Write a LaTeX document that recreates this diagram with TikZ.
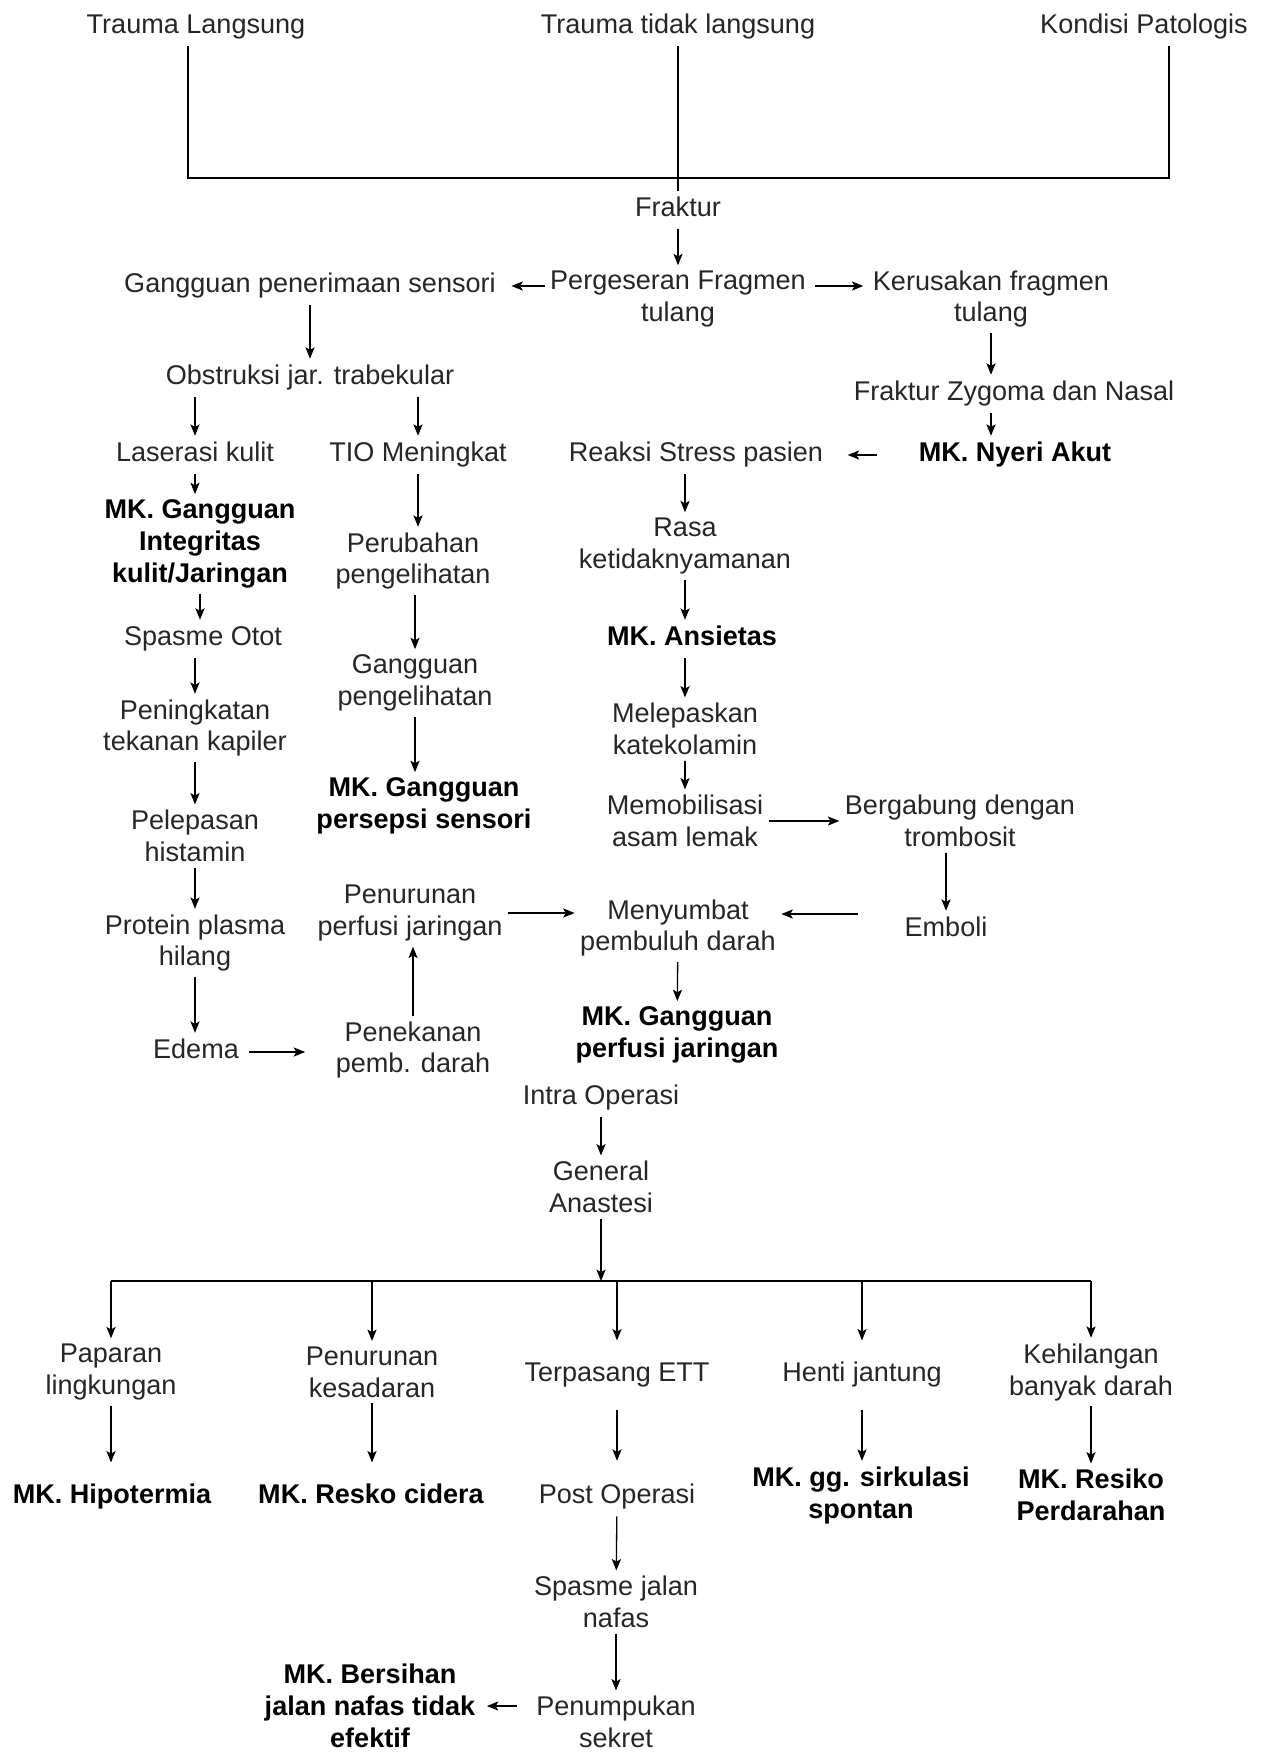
\documentclass[tikz,border=0pt]{standalone}
\usepackage{fontspec}
\setmainfont{Liberation Sans}
\usetikzlibrary{arrows.meta,calc}

\begin{document}
\begin{tikzpicture}[x=0.02cm,y=-0.02cm,
  every node/.style={font=\fontsize{15.4}{18.2}\selectfont,text=black!85,inner sep=3pt},
  txt/.style={text height=11.6pt,text depth=3.9pt},
  ml/.style={align=center},
  mk/.style={font=\fontsize{15.4}{18.2}\selectfont\bfseries,text=black},
  tall/.style={minimum height=1.37cm},
  arr/.style={-{Stealth[length=6.5pt,width=5.2pt,inset=1.5pt]},line width=0.75pt},
  link/.style={line width=0.75pt},
  bar/.style={line width=1.1pt}]
\useasboundingbox (0,0) rectangle (1264,1754);

\node[txt] (trLang) at (196,27) {Trauma Langsung};
\node[txt] (trTidak) at (678,27) {Trauma tidak langsung};
\node[txt] (kondisi) at (1144,27) {Kondisi Patologis};
\coordinate (jL) at (188,178);
\coordinate (jR) at (1169,178);
\node[txt] (fraktur) at (678,210) {Fraktur};
\node[ml] (pergeseran) at (678,299) {Pergeseran Fragmen\\tulang};
\node[txt] (sensori) at (310,286) {Gangguan penerimaan sensori};
\node[ml] (kerusakan) at (991,299) {Kerusakan fragmen\\tulang};
\node[txt] (obstruksi) at (310,378) {Obstruksi jar. trabekular};
\node[txt] (laserasi) at (195,455) {Laserasi kulit};
\node[txt] (tio) at (418,455) {TIO Meningkat};
\node[ml,mk] (integritas) at (200,544) {MK. Gangguan\\Integritas\\kulit/Jaringan};
\node[txt] (spasme) at (203,639) {Spasme Otot};
\node[ml] (kapiler) at (195,728) {Peningkatan\\tekanan kapiler};
\node[ml] (histamin) at (195,836) {Pelepasan\\histamin};
\node[ml] (protein) at (195,943) {Protein plasma\\hilang};
\node[txt] (edema) at (196,1052) {Edema};
\node[ml] (perubahan) at (413,561) {Perubahan\\pengelihatan};
\node[ml] (pengelihatan) at (415,683) {Gangguan\\pengelihatan};
\node[ml,mk] (persepsi) at (424,806) {MK. Gangguan\\persepsi sensori};
\node[ml] (penurunan) at (410,913) {Penurunan\\perfusi jaringan};
\node[ml] (penekanan) at (413,1050) {Penekanan\\pemb. darah};
\node[txt] (zygoma) at (1014,394) {Fraktur Zygoma dan Nasal};
\node[txt,mk] (nyeri) at (1015,455) {MK. Nyeri Akut};
\node[txt] (reaksi) at (696,455) {Reaksi Stress pasien};
\node[ml] (rasa) at (685,546) {Rasa\\ketidaknyamanan};
\node[txt,mk] (ansietas) at (692,639) {MK. Ansietas};
\node[ml] (katekolamin) at (685,729) {Melepaskan\\katekolamin};
\node[ml] (memobilisasi) at (685,821) {Memobilisasi\\asam lemak};
\node[ml] (bergabung) at (960,821) {Bergabung dengan\\trombosit};
\node[txt] (emboli) at (946,930) {Emboli};
\node[ml] (menyumbat) at (678,928) {Menyumbat\\pembuluh darah};
\node[ml,mk] (perfusi) at (677,1035) {MK. Gangguan\\perfusi jaringan};
\node[txt] (intra) at (601,1098) {Intra Operasi};
\node[ml] (anastesi) at (601,1187) {General\\Anastesi};
\coordinate (bar) at (601,1281);
\coordinate (barL) at (111,1281);
\coordinate (barR) at (1091,1281);
\node[ml] (paparan) at (111,1372) {Paparan\\lingkungan};
\node[ml] (kesadaran) at (372,1372) {Penurunan\\kesadaran};
\node[txt,tall] (ett) at (617,1375) {Terpasang ETT};
\node[txt,tall] (henti) at (862,1375) {Henti jantung};
\node[ml] (kehilangan) at (1091,1372) {Kehilangan\\banyak darah};
\node[txt,mk,tall] (hipotermia) at (112,1497) {MK. Hipotermia};
\node[txt,mk,tall] (cidera) at (371,1497) {MK. Resko cidera};
\node[txt] (postop) at (617,1497) {Post Operasi};
\node[ml,mk] (sirkulasi) at (861,1495) {MK. gg. sirkulasi\\spontan};
\node[ml,mk] (perdarahan) at (1091,1495) {MK. Resiko\\Perdarahan};
\node[ml] (spasmeNafas) at (616,1602) {Spasme jalan\\nafas};
\node[ml] (penumpukan) at (616,1722) {Penumpukan\\sekret};
\node[ml,mk] (bersihan) at (370,1706) {MK. Bersihan\\jalan nafas tidak\\efektif};

\draw[link] (trLang.south -| jL) -- (jL) -- (jR) -- (kondisi.south -| jR);
\draw[link] (trTidak) -- (fraktur);
\draw[arr] (fraktur) -- (pergeseran);
\draw[arr,shorten >=0.2cm] (sensori.east -| pergeseran.west) -- (sensori.east);
\draw[arr,shorten <=0.08cm,shorten >=0.08cm] (sensori.east -| pergeseran.east) -- (sensori.east -| kerusakan.west);
\draw[arr] (sensori) -- (obstruksi);
\draw[arr] (obstruksi.south -| laserasi) -- (laserasi);
\draw[arr] (obstruksi.south -| tio) -- (tio);
\draw[arr] (laserasi) -- (laserasi |- integritas.north);
\draw[arr] (integritas.south) -- (integritas.south |- spasme.north);
\draw[arr] (spasme.south -| kapiler) -- (kapiler);
\draw[arr] (kapiler) -- (histamin);
\draw[arr] (histamin) -- (protein);
\draw[arr] (protein) -- (protein |- edema.north);
\draw[arr,shorten <=0.1cm,shorten >=0.5cm] (edema) -- (edema -| penekanan.west);
\draw[arr] (penekanan) -- (penekanan |- penurunan.south);
\draw[arr] (penurunan.east) -- (penurunan.east -| menyumbat.west);
\draw[arr] (tio.south) -- (tio.south |- perubahan.north);
\draw[arr] (perubahan.south -| pengelihatan) -- (pengelihatan);
\draw[arr] (pengelihatan) -- (pengelihatan |- persepsi.north);
\draw[arr] (kerusakan.south) -- (kerusakan.south |- zygoma.north);
\draw[arr] (zygoma.south -| kerusakan.south) -- (kerusakan.south |- nyeri.north);
\draw[arr,shorten <=0.72cm,shorten >=0.38cm] (nyeri) -- (reaksi);
\draw[arr] (reaksi.south -| rasa) -- (rasa);
\draw[arr] (rasa) -- (rasa |- ansietas.north);
\draw[arr] (ansietas.south -| katekolamin) -- (katekolamin);
\draw[arr] (katekolamin) -- (memobilisasi);
\draw[arr] (memobilisasi) -- (bergabung);
\draw[arr] (bergabung.south -| emboli) -- (emboli);
\draw[arr,shorten <=0.82cm] ($(emboli.west)+(0,-16)$) -- ($(emboli.west -| menyumbat.east)+(0,-16)$);
\draw[arr] (menyumbat) -- (perfusi);
\draw[arr] (intra) -- (anastesi);
\draw[arr] (anastesi) -- (bar);
\draw[bar] (barL) -- (barR);
\draw[arr] (paparan.north |- bar) -- (paparan);
\draw[arr] (kesadaran.north |- bar) -- (kesadaran);
\draw[arr] (ett.north |- bar) -- (ett);
\draw[arr] (henti.north |- bar) -- (henti);
\draw[arr] (kehilangan.north |- bar) -- (kehilangan);
\draw[arr] (paparan.south) -- (paparan.south |- hipotermia.north);
\draw[arr] (kesadaran.south) -- (kesadaran.south |- cidera.north);
\draw[arr,shorten >=0.34cm] (ett) -- (postop);
\draw[arr] (henti.south) -- (henti.south |- sirkulasi.north);
\draw[arr] (kehilangan) -- (perdarahan);
\draw[arr] (postop) -- (spasmeNafas);
\draw[arr] (spasmeNafas) -- (penumpukan);
\draw[arr,shorten <=0.28cm,shorten >=0.12cm] (bersihan.east -| penumpukan.west) -- (bersihan.east);
\end{tikzpicture}
\end{document}
